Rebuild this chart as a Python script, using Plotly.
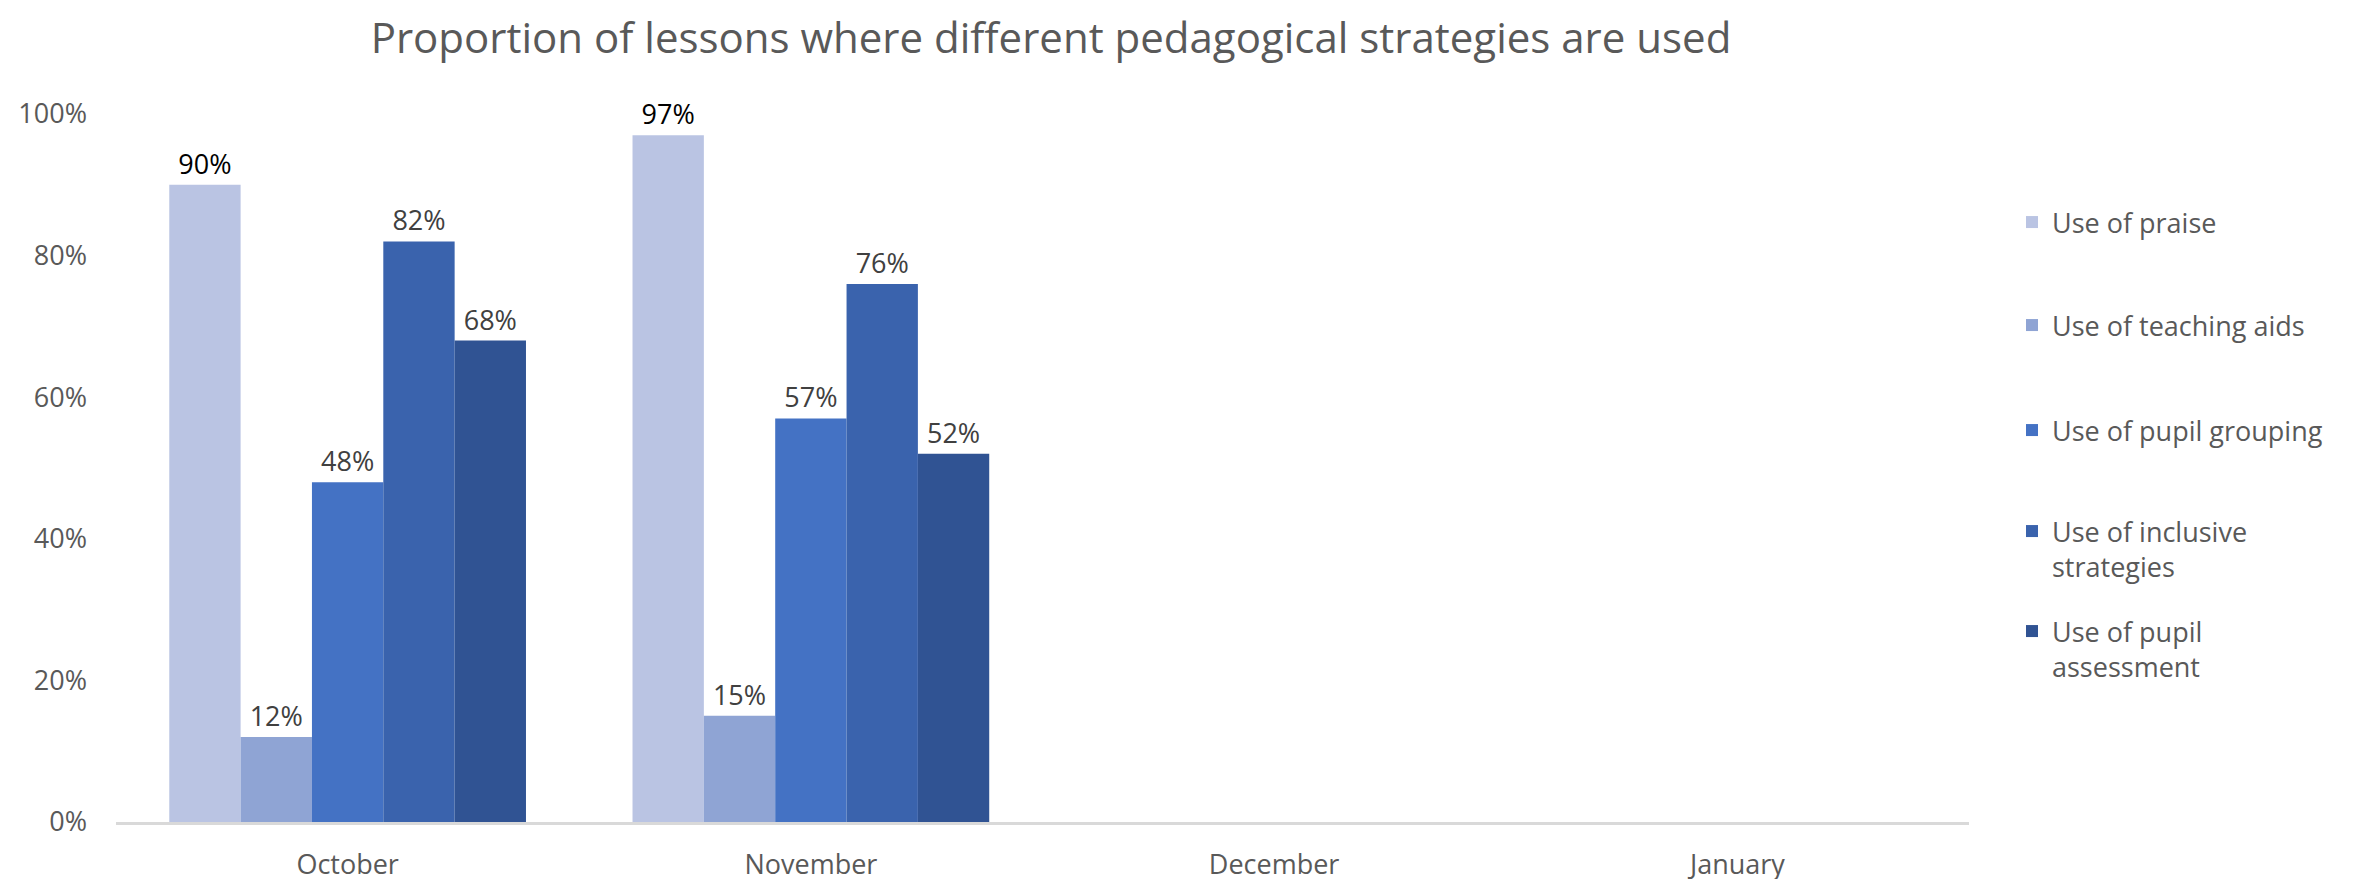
import plotly.graph_objects as go

months = ["October", "November", "December", "January"]
series_names = [
    "Use of praise",
    "Use of teaching aids",
    "Use of pupil grouping",
    "Use of inclusive<br>strategies",
    "Use of pupil<br>assessment",
]
praise = [0.90, 0.97, None, None]
teaching_aids = [0.12, 0.15, None, None]
pupil_grouping = [0.48, 0.57, None, None]
inclusive = [0.82, 0.76, None, None]
assessment = [0.68, 0.52, None, None]
values = [praise, teaching_aids, pupil_grouping, inclusive, assessment]

colors = ["#BAC4E3", "#8FA4D4", "#4472C4", "#3A63AD", "#305393"]
label_colors = ["#000000", "#404040", "#404040", "#404040", "#404040"]
legend_ids = ["legend", "legend2", "legend3", "legend4", "legend5"]
legend_centers_px = [222, 325, 430, 531, 631]

W, H = 2357, 879
OFF = 8  # page body margin
FONT = "Open Sans"

fig = go.Figure()
for name, vals, col, lc, lg in zip(series_names, values, colors, label_colors, legend_ids):
    fig.add_trace(go.Bar(
        x=months, y=vals, name=name,
        marker=dict(color=col, line=dict(width=0)),
        text=[f"{v*100:.0f}%" if v is not None else "" for v in vals],
        textposition="outside",
        textfont=dict(family=FONT, size=27, color=lc),
        cliponaxis=False,
        legend=lg,
    ))

legend_layout = {}
for lg, cy in zip(legend_ids, legend_centers_px):
    legend_layout[lg] = dict(
        x=(2004) / W, xref="container", xanchor="left",
        y=1 - (cy - OFF - 24) / H, yref="container", yanchor="top",
        font=dict(family=FONT, size=27, color="#595959"),
        bgcolor="rgba(0,0,0,0)", valign="top",
        itemwidth=30,
    )

plot_l, plot_r, plot_t, plot_b = 116 - OFF, 1969 - OFF, 114 - OFF, 822 - OFF

fig.update_layout(
    width=W, height=H,
    paper_bgcolor="white", plot_bgcolor="white",
    margin=dict(l=plot_l, r=W - plot_r, t=plot_t, b=H - plot_b, autoexpand=False),
    title=dict(
        text="Proportion of lessons where different pedagogical strategies are used",
        x=(1051 - OFF) / W, xanchor="center",
        y=1 - (38 - OFF) / H, yanchor="middle",
        font=dict(family=FONT, size=42, color="#595959"),
    ),
    barmode="group",
    bargap=0.23,
    bargroupgap=0,
    showlegend=True,
    **legend_layout,
)

fig.update_xaxes(
    type="category", categoryorder="array", categoryarray=months,
    showline=True, linecolor="#D9D9D9", linewidth=3,
    showgrid=False, ticks="", ticklabelstandoff=17,
    tickfont=dict(family=FONT, size=27, color="#595959"),
    automargin=False,
)
fig.update_yaxes(
    range=[0, 1], tickvals=[0, 0.2, 0.4, 0.6, 0.8, 1.0],
    ticktext=["0%", "20%", "40%", "60%", "80%", "100%"],
    showgrid=False, zeroline=False, showline=False, ticks="",
    ticklabelstandoff=28,
    tickfont=dict(family=FONT, size=27, color="#595959"),
    automargin=False,
)

fig.write_html("out.html")
